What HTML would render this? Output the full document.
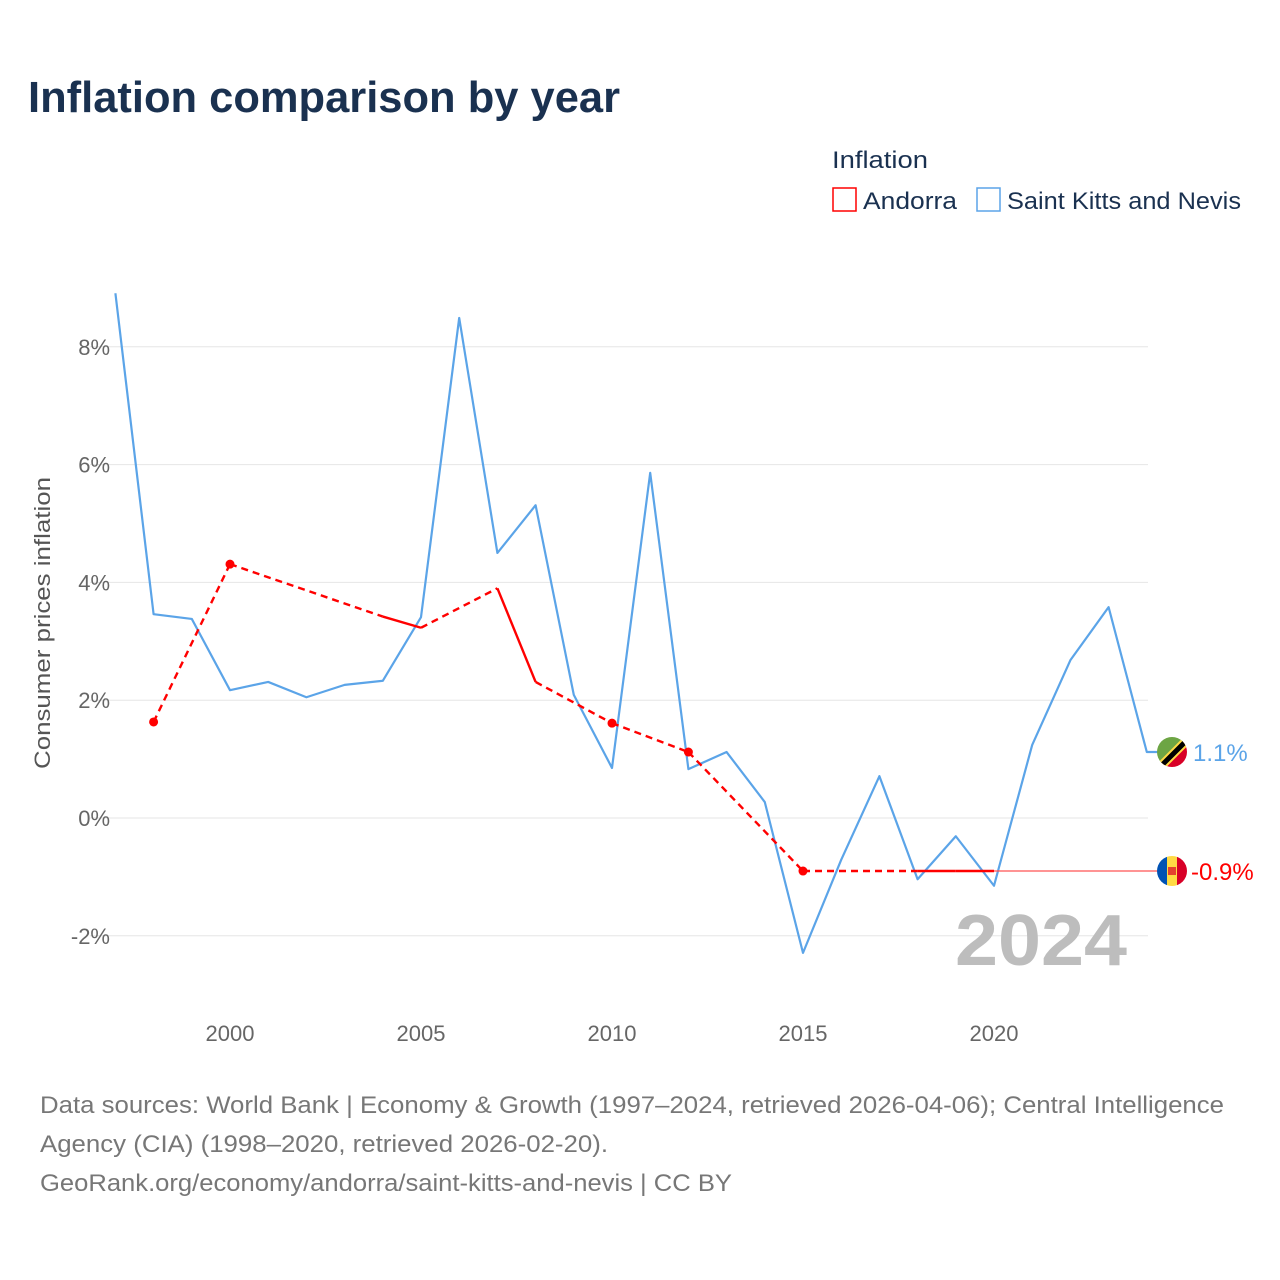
<!DOCTYPE html>
<html><head><meta charset="utf-8"><style>
body{margin:0;background:#fff;}
svg{display:block;font-family:"Liberation Sans",sans-serif;}
</style></head><body>
<svg id="chart" width="1280" height="1280" viewBox="0 0 1280 1280">
<text x="28" y="112" font-size="44" font-weight="bold" fill="#1a3150" textLength="592" lengthAdjust="spacingAndGlyphs">Inflation comparison by year</text>
<text x="832" y="168" font-size="24" fill="#1a3150" textLength="96" lengthAdjust="spacingAndGlyphs">Inflation</text>
<g>
<rect x="833" y="188" width="23" height="23" fill="none" stroke="#f00" stroke-width="1.5"/>
<text x="863" y="209" font-size="24" fill="#1a3150" textLength="94" lengthAdjust="spacingAndGlyphs">Andorra</text>
</g>
<g>
<rect x="977" y="188" width="23" height="23" fill="none" stroke="#5ba4e8" stroke-width="1.5"/>
<text x="1007" y="209" font-size="24" fill="#1a3150" textLength="234" lengthAdjust="spacingAndGlyphs">Saint Kitts and Nevis</text>
</g>
<text transform="translate(50,623) rotate(-90)" text-anchor="middle" font-size="22" fill="#555" textLength="292" lengthAdjust="spacingAndGlyphs">Consumer prices inflation</text>
<g id="grid"></g><g id="yticks"></g><g id="xticks"></g>
<text x="1127" y="965" text-anchor="end" font-size="72" font-weight="bold" fill="#bdbdbd" textLength="172" lengthAdjust="spacingAndGlyphs">2024</text>
<g id="series"></g>
<g id="flags"></g>
<text x="40" y="1113" font-size="24" fill="#777" textLength="1184" lengthAdjust="spacingAndGlyphs">Data sources: World Bank | Economy &amp; Growth (1997–2024, retrieved 2026-04-06); Central Intelligence</text>
<text x="40" y="1152" font-size="24" fill="#777" textLength="568" lengthAdjust="spacingAndGlyphs">Agency (CIA) (1998–2020, retrieved 2026-02-20).</text>
<text x="40" y="1191" font-size="24" fill="#777" textLength="692" lengthAdjust="spacingAndGlyphs">GeoRank.org/economy/andorra/saint-kitts-and-nevis | CC BY</text>
</svg>
<script>
const yTicks=[-2,0,2,4,6,8];
const xTicks=[2000,2005,2010,2015,2020];
const kittsYears=[1997,1998,1999,2000,2001,2002,2003,2004,2005,2006,2007,2008,2009,2010,2011,2012,2013,2014,2015,2016,2017,2018,2019,2020,2021,2022,2023,2024];
const kittsValues=[8.91,3.46,3.38,2.17,2.31,2.05,2.26,2.33,3.41,8.49,4.5,5.31,2.09,0.85,5.86,0.83,1.12,0.27,-2.29,-0.71,0.71,-1.04,-0.31,-1.15,1.24,2.68,3.58,1.12];
const andorraYears=[1998,2000,2004,2005,2007,2008,2010,2012,2015,2018,2019,2020];
const andorraValues=[1.63,4.31,3.42,3.23,3.9,2.31,1.61,1.12,-0.9,-0.9,-0.9,-0.9];
const NS='http://www.w3.org/2000/svg';
const xS=y=>230+(y-2000)*38.2;
const yS=v=>818-v*58.9;
function mk(tag,attrs,parent){const e=document.createElementNS(NS,tag);for(const k in attrs)e.setAttribute(k,attrs[k]);parent.appendChild(e);return e;}
const grid=document.getElementById('grid'),yt=document.getElementById('yticks'),xt=document.getElementById('xticks'),ser=document.getElementById('series'),fl=document.getElementById('flags');
yTicks.forEach(v=>{
 const l=mk('line',{x1:90,x2:1148,y1:yS(v),y2:yS(v),stroke:'#e6e6e6','stroke-width':1},grid);
 
 
 const t=mk('text',{x:110,y:yS(v)+8,'text-anchor':'end','font-size':22,fill:'#666'},yt);
 t.textContent=v+'%';
 
 
});
xTicks.forEach(y=>{
 const t=mk('text',{x:xS(y),y:1041,'text-anchor':'middle','font-size':22,fill:'#666'},xt);
 t.textContent=y;
 
 
});
const kEnd=kittsValues[kittsValues.length-1];
const kp=kittsYears.map((y,i)=>xS(y)+','+yS(kittsValues[i])).join(' ')+' 1160,'+yS(kEnd);
const kl=mk('polyline',{points:kp,fill:'none',stroke:'#5ba4e8','stroke-width':2.2,'stroke-linejoin':'round'},ser);


const last=andorraValues[andorraValues.length-1];
const rl=mk('line',{x1:xS(andorraYears[andorraYears.length-1]),x2:1160,y1:yS(last),y2:yS(last),stroke:'#f55','stroke-width':1.2},ser);


for(let i=0;i<andorraYears.length-1;i++){
 const solid=andorraYears[i+1]-andorraYears[i]===1;
 const a={x1:xS(andorraYears[i]),y1:yS(andorraValues[i]),x2:xS(andorraYears[i+1]),y2:yS(andorraValues[i+1]),stroke:'#f00','stroke-width':2.4};
 if(!solid)a['stroke-dasharray']='7,5';
 const s=mk('line',a,ser);
 
 
}
andorraYears.forEach((y,i)=>{
 const prev=i>0&&y-andorraYears[i-1]===1, next=i<andorraYears.length-1&&andorraYears[i+1]-y===1;
 if(!prev&&!next){
  const c=mk('circle',{cx:xS(y),cy:yS(andorraValues[i]),r:4.5,fill:'#f00'},ser);
  
  
 }
});
const gk=mk('g',{},fl);


const ky=yS(kEnd);
gk.innerHTML=`<clipPath id="ck"><circle cx="1172" cy="${ky}" r="15"/></clipPath><g clip-path="url(#ck)"><polygon points="1157,${ky-15} 1187,${ky-15} 1157,${ky+15}" fill="#6da544"/><polygon points="1187,${ky-15} 1187,${ky+15} 1157,${ky+15}" fill="#d80027"/><line x1="1160" y1="${ky+15}" x2="1187" y2="${ky-12}" stroke="#ffda44" stroke-width="9"/><line x1="1160" y1="${ky+15}" x2="1187" y2="${ky-12}" stroke="#000" stroke-width="5"/></g>`;
const kt=mk('text',{x:1193,y:ky+9,'font-size':24,fill:'#5ba4e8'},fl);
kt.textContent=kEnd.toFixed(1)+'%';


const ay=yS(last);
const ga=mk('g',{},fl);


ga.innerHTML=`<clipPath id="ca"><circle cx="1172" cy="${ay}" r="15"/></clipPath><g clip-path="url(#ca)"><rect x="1157" y="${ay-15}" width="10" height="30" fill="#0052b4"/><rect x="1167" y="${ay-15}" width="10" height="30" fill="#ffda44"/><rect x="1177" y="${ay-15}" width="10" height="30" fill="#d80027"/><rect x="1168" y="${ay-4}" width="8" height="8" fill="#d80027" opacity="0.7"/></g>`;
const at=mk('text',{x:1191,y:ay+9,'font-size':24,fill:'#f00'},fl);
at.textContent=last.toFixed(1)+'%';


</script>
</body></html>
